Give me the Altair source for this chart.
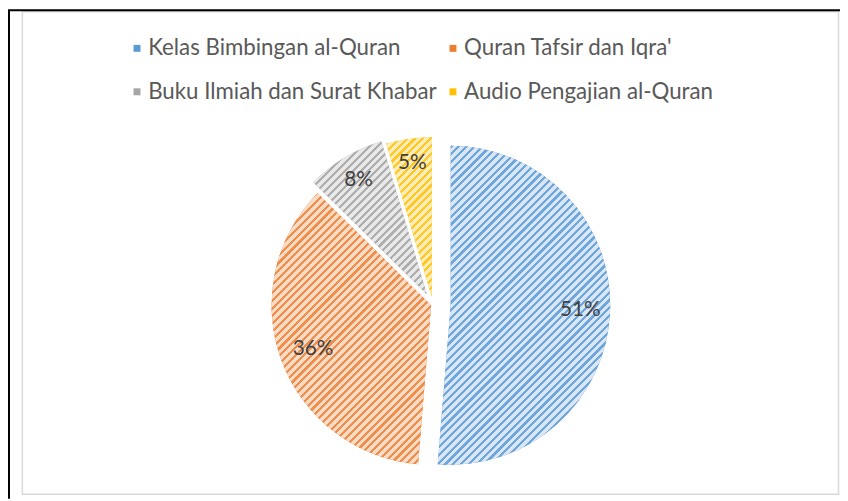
import math
import altair as alt
import pandas as pd

# ---------------- data ----------------
categories = [
    "Kelas Bimbingan al-Quran",
    "Quran Tafsir dan Iqra'",
    "Buku Ilmiah dan Surat Khabar",
    "Audio Pengajian al-Quran",
]
values = [51.3, 36.1, 8.0, 4.6]

# ---------------- style ----------------
colors = ["#5B9BD5", "#ED7D31", "#A5A5A5", "#FFC000"]
light = ["#D9E6F5", "#FADCC6", "#E8E8E8", "#FFEDB5"]
stripe = ["#6FA6DB", "#F08E4C", "#AEAEAE", "#FFC828"]
explode = [18, 2, 12, 8]           # px each slice is pulled out
label_r = [131, 127, 134, 136]     # px from slice centre to its label
W, H = 840, 493
CX, CY, R = 429, 297, 161
PERIOD = 5.6
DARK = 0.40
FONT = "Lato"

df = pd.DataFrame({"cat": categories, "value": values, "idx": list(range(len(values)))})

ex_arr = "[" + ",".join(str(e) for e in explode) + "]"
lr_arr = "[" + ",".join(str(e) for e in label_r) + "]"

base = (
    alt.Chart(df)
    .transform_joinaggregate(total="sum(value)")
    .transform_window(cum="sum(value)", sort=[alt.SortField("idx")])
    .transform_calculate(t0="(datum.cum - datum.value) / datum.total * 2 * PI")
    .transform_calculate(t1="datum.cum / datum.total * 2 * PI")
    .transform_calculate(mid="(datum.t0 + datum.t1) / 2")
    .transform_calculate(ex=f"{ex_arr}[datum.idx]", lr=f"{lr_arr}[datum.idx]")
    .transform_calculate(cx=f"{CX} + datum.ex * sin(datum.mid)",
                         cy=f"{CY} - datum.ex * cos(datum.mid)")
    .transform_calculate(lx="datum.cx + datum.lr * sin(datum.mid)",
                         ly="datum.cy - datum.lr * cos(datum.mid)",
                         pct="datum.value / datum.total")
)

pos = dict(
    x=alt.X("cx:Q", scale=None, axis=None),
    y=alt.Y("cy:Q", scale=None, axis=None),
    theta=alt.Theta("t0:Q", scale=None, stack=False),
    theta2=alt.Theta2("t1:Q"),
)

arcs = base.mark_arc(outerRadius=R).encode(
    color=alt.Color(
        "cat:N",
        scale=alt.Scale(domain=categories, range=colors),
        legend=alt.Legend(
            orient="none", legendX=119, legendY=27, columns=2, direction="horizontal",
            title=None, symbolType="square", symbolSize=49, symbolStrokeWidth=0,
            labelFont=FONT, labelFontSize=22.5, labelColor="#595959",
            labelLimit=600, columnPadding=4, rowPadding=21, labelOffset=0,
            padding=0,
        ),
    ),
    **pos,
)

# hatch-like stripes drawn as hard-stop linear gradients (45 degree "/")
total = sum(values)
layers = []
cum = 0.0
for i, v in enumerate(values):
    a0 = cum / total * 2 * math.pi
    cum += v
    a1 = cum / total * 2 * math.pi
    pts = [(0.0, 0.0)]
    n = 200
    for k in range(n + 1):
        a = a0 + (a1 - a0) * k / n
        pts.append((R * math.sin(a), -R * math.cos(a)))
    w = max(p[0] for p in pts) - min(p[0] for p in pts)
    h = max(p[1] for p in pts) - min(p[1] for p in pts)
    kk = (w + h) / (w * w + h * h)
    N = max(1, int(round((w + h) / (PERIOD * math.sqrt(2)))))
    stops = []
    for j in range(N):
        o0 = j / N
        o1 = (j + 1 - DARK) / N
        o2 = (j + 1) / N
        stops += [
            {"offset": round(o0, 5), "color": light[i]},
            {"offset": round(o1, 5), "color": light[i]},
            {"offset": round(o1, 5), "color": stripe[i]},
            {"offset": round(o2, 5), "color": stripe[i]},
        ]
    grad = {"gradient": "linear", "x1": 0, "y1": 0,
            "x2": round(kk * w, 5), "y2": round(kk * h, 5), "stops": stops}
    layers.append(
        base.transform_filter(f"datum.idx == {i}")
        .mark_arc(outerRadius=R, fill=grad)
        .encode(**pos)
    )

labels = base.mark_text(font=FONT, fontSize=21, color="#404040",
                        align="center", baseline="middle").encode(
    x=alt.X("lx:Q", scale=None, axis=None),
    y=alt.Y("ly:Q", scale=None, axis=None),
    text=alt.Text("pct:Q", format=".0%"),
)

one = pd.DataFrame({"a": [0]})
frame = alt.Chart(one).mark_rect(filled=False, stroke="#D9D9D9", strokeWidth=1.5).encode(
    x=alt.value(14.5), x2=alt.value(838.5), y=alt.value(1.5), y2=alt.value(488.5)
)
black_left = alt.Chart(one).mark_rule(color="black", strokeWidth=2).encode(
    x=alt.value(1), y=alt.value(0), y2=alt.value(H)
)
black_top = alt.Chart(one).mark_rule(color="black", strokeWidth=2).encode(
    y=alt.value(0), x=alt.value(0), x2=alt.value(W)
)

chart = (
    alt.layer(frame, black_left, black_top, arcs, *layers, labels)
    .properties(width=W, height=H, autosize=alt.AutoSizeParams(type="none"), padding=0,
                background="white")
    .configure_view(strokeWidth=0)
)

chart.save("out.html", embed_options={"renderer": "svg", "actions": False})
